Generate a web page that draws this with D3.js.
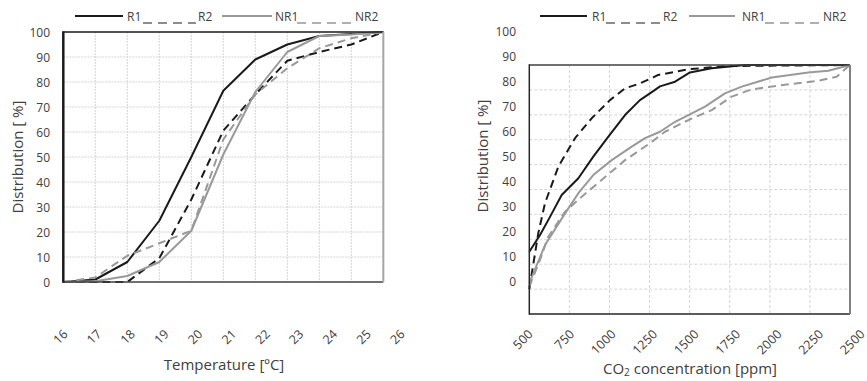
<!DOCTYPE html>
<html>
<head>
<meta charset="utf-8">
<script src="https://cdn.jsdelivr.net/npm/d3@7"></script>
<style>
  html, body { margin: 0; padding: 0; background: #fff; }
  svg { display: block; }
  text { font-family: "Open Sans", sans-serif; fill: #404040; }
</style>
</head>
<body>
<svg id="chart" width="867" height="381"></svg>
<script>
// ---------- DATA ----------
const yTicks = [0, 10, 20, 30, 40, 50, 60, 70, 80, 90, 100];

// Left chart: temperature
const tempTicks = [16, 17, 18, 19, 20, 21, 22, 23, 24, 25, 26];
const tempR1  = [0, 1, 8, 24.5, 50, 76.5, 89, 95, 98.4, 99.2, 100];
const tempR2  = [0, 0, 0, 9.5, 33, 60.5, 75, 88.5, 92, 95, 100];
const tempNR1 = [0, 0.3, 2.4, 8, 20.5, 51, 76, 92, 98.4, 99, 100];
const tempNR2 = [0, 1.8, 10.5, 15.5, 20.5, 57, 75, 85.5, 93.5, 97.5, 100];

// Right chart: CO2 concentration
const co2Ticks = [500, 750, 1000, 1250, 1500, 1750, 2000, 2250, 2500];
const co2R1X  = [500, 567, 629, 702, 806, 899, 993, 1097, 1190, 1273, 1315, 1409, 1502, 1637, 1846, 2500];
const co2R1Y  = [25, 31.7, 39, 47.8, 54.5, 63.2, 71.2, 79.9, 85.9, 89.5, 91.4, 93.3, 97, 98.7, 100, 100];
const co2R2X  = [500, 556, 598, 681, 785, 889, 1003, 1097, 1190, 1273, 1304, 1492, 1741, 2500];
const co2R2Y  = [10, 32.4, 44.5, 59.2, 70.6, 78.6, 85.9, 90.6, 92.6, 95, 96, 98.3, 99.6, 100];
const co2NR1X = [500, 598, 723, 806, 899, 1014, 1139, 1222, 1315, 1409, 1596, 1720, 1825, 2012, 2240, 2365, 2500];
const co2NR1Y = [12.3, 27.7, 40.4, 48.5, 55.8, 61.8, 67.2, 70.6, 73.2, 77.2, 83.3, 88.6, 91.3, 95, 97, 97.7, 100];
const co2NR2X = [500, 567, 618, 723, 827, 951, 1097, 1253, 1346, 1492, 1637, 1762, 1887, 2053, 2303, 2417, 2500];
const co2NR2Y = [11, 21.7, 31, 41.1, 47.1, 53.8, 61.8, 68.6, 73.2, 77.9, 81.9, 87.3, 90.2, 91.7, 93.7, 95.3, 100];

const seriesNames = ["R1", "R2", "NR1", "NR2"];

// ---------- STYLE ----------
const BLACK = "#1a1a1a", GRAY = "#999999";
const styles = {
  R1:  { color: BLACK, dash: null },
  R2:  { color: BLACK, dash: "8,5" },
  NR1: { color: GRAY,  dash: null },
  NR2: { color: GRAY,  dash: "8,5" }
};

const svg = d3.select("#chart");
svg.append("rect").attr("width", 867).attr("height", 381).attr("fill", "#fff");

function drawChart(cfg) {
  const g = svg.append("g");
  const { xPlot, yPlot, xLab, yLab } = cfg;
  const [x0, x1] = xPlot.range();
  const [yb, yt] = yPlot.range();

  // gridlines
  g.append("g").selectAll("line.v").data(cfg.vGrid).join("line")
    .attr("x1", d => xPlot(d)).attr("x2", d => xPlot(d))
    .attr("y1", yt).attr("y2", yb)
    .attr("stroke", "#d4d4d4").attr("stroke-width", 1)
    .attr("stroke-dasharray", cfg.gridDash);
  g.append("g").selectAll("line.h").data(cfg.hGrid).join("line")
    .attr("x1", x0).attr("x2", x1)
    .attr("y1", d => yPlot(d)).attr("y2", d => yPlot(d))
    .attr("stroke", "#d4d4d4").attr("stroke-width", 1)
    .attr("stroke-dasharray", cfg.gridDash);

  // lines
  const line = d3.line().x(d => xPlot(d[0])).y(d => yPlot(d[1]));
  cfg.series.forEach(s => {
    const st = styles[s.name];
    g.append("path").datum(s.pts)
      .attr("d", line)
      .attr("fill", "none")
      .attr("stroke", st.color)
      .attr("stroke-width", 2)
      .attr("stroke-linejoin", "round")
      .attr("stroke-dasharray", st.dash);
  });

  // borders
  const b = cfg.borders;
  g.append("line").attr("x1", x0).attr("x2", x1).attr("y1", yt).attr("y2", yt)
    .attr("stroke", b.top[0]).attr("stroke-width", b.top[1]);
  g.append("line").attr("x1", x0).attr("x2", x1).attr("y1", yb).attr("y2", yb)
    .attr("stroke", b.bottom[0]).attr("stroke-width", b.bottom[1]);
  g.append("line").attr("x1", x1).attr("x2", x1).attr("y1", yt).attr("y2", yb)
    .attr("stroke", b.right[0]).attr("stroke-width", b.right[1]);
  g.append("line").attr("x1", x0).attr("x2", x0).attr("y1", yt - 0.75).attr("y2", yb + 0.75)
    .attr("stroke", b.left[0]).attr("stroke-width", b.left[1]);

  // y tick labels
  const ya = g.append("g").attr("transform", `translate(${cfg.yLabX},0)`)
    .call(d3.axisLeft(yLab).tickValues(yTicks).tickSize(0).tickPadding(0));
  ya.select(".domain").remove();
  ya.selectAll("text").attr("x", 0).attr("dy", "0.35em")
    .attr("font-size", 12).attr("font-family", "Open Sans").attr("fill", "#404040");

  // x tick labels (rotated)
  const xa = g.append("g").attr("transform", `translate(0,${cfg.xLabY})`)
    .call(d3.axisBottom(xLab).tickValues(cfg.xTicks).tickSize(0).tickPadding(0).tickFormat(d3.format("d")));
  xa.select(".domain").remove();
  xa.selectAll("text").attr("x", 0).attr("y", 0).attr("dy", 0)
    .attr("text-anchor", "end").attr("transform", "rotate(-45)")
    .attr("font-size", 12.5).attr("font-family", "Open Sans").attr("fill", "#404040");

  // axis titles
  g.append("text").attr("transform", `translate(${cfg.yTitle[0]},${cfg.yTitle[1]}) rotate(-90)`)
    .attr("text-anchor", "middle").attr("dy", "0.35em").attr("font-size", 15)
    .text("Distribution [ %]");
  const xt = g.append("text").attr("x", cfg.xTitle[0]).attr("y", cfg.xTitle[1])
    .attr("text-anchor", "middle").attr("font-size", 15);
  cfg.xTitleFn(xt);

  // legend
  const L = cfg.legend;
  const lg = g.append("g");
  lg.append("line").attr("x1", L.r1[0]).attr("x2", L.r1[1]).attr("y1", 16).attr("y2", 16)
    .attr("stroke", BLACK).attr("stroke-width", 2);
  lg.append("text").attr("x", L.r1t).attr("y", 21).attr("font-size", 12).text(seriesNames[0]);
  lg.append("line").attr("x1", L.r2[0]).attr("x2", L.r2[1]).attr("y1", 23).attr("y2", 23)
    .attr("stroke", BLACK).attr("stroke-width", 1.2).attr("stroke-dasharray", "9,6");
  lg.append("text").attr("x", L.r2t).attr("y", 21).attr("font-size", 12).text(seriesNames[1]);
  lg.append("line").attr("x1", L.n1[0]).attr("x2", L.n1[1]).attr("y1", 16).attr("y2", 16)
    .attr("stroke", GRAY).attr("stroke-width", 2);
  lg.append("text").attr("x", L.n1t).attr("y", 21).attr("font-size", 12).text(seriesNames[2]);
  lg.append("line").attr("x1", L.n2[0]).attr("x2", L.n2[1]).attr("y1", 23).attr("y2", 23)
    .attr("stroke", "#606060").attr("stroke-width", 1.2).attr("stroke-dasharray", "9,6");
  lg.append("text").attr("x", L.n2t).attr("y", 21).attr("font-size", 12).text(seriesNames[3]);
}

// ---------- LEFT CHART ----------
drawChart({
  xPlot: d3.scaleLinear().domain([16, 26]).range([63.3, 383.3]),
  yPlot: d3.scaleLinear().domain([0, 100]).range([282, 32]),
  xLab:  d3.scaleLinear().domain([16, 26]).range([68, 405]),
  yLab:  d3.scaleLinear().domain([0, 100]).range([282, 32]),
  vGrid: tempTicks.slice(1, -1),
  hGrid: yTicks.slice(1, -1),
  gridDash: "2,1",
  xTicks: tempTicks,
  yLabX: 50,
  xLabY: 335,
  yTitle: [18, 157],
  xTitle: [224, 370],
  xTitleFn: t => t.text("Temperature [ºC]"),
  series: [
    { name: "R1",  pts: tempTicks.map((x, i) => [x, tempR1[i]]) },
    { name: "R2",  pts: tempTicks.map((x, i) => [x, tempR2[i]]) },
    { name: "NR1", pts: tempTicks.map((x, i) => [x, tempNR1[i]]) },
    { name: "NR2", pts: tempTicks.map((x, i) => [x, tempNR2[i]]) }
  ],
  borders: { top: ["#1a1a1a", 1.5], bottom: ["#404040", 1.5], right: ["#a6a6a6", 2], left: ["#1a1a1a", 2.5] },
  legend: { r1: [75, 123], r1t: 127, r2: [143, 196], r2t: 198, n1: [222, 272], n1t: 275, n2: [297, 352], n2t: 355 }
});

// ---------- RIGHT CHART ----------
drawChart({
  xPlot: d3.scaleLinear().domain([500, 2500]).range([529.3, 850]),
  yPlot: d3.scaleLinear().domain([0, 100]).range([314, 65]),
  xLab:  d3.scaleLinear().domain([500, 2500]).range([533, 865]),
  yLab:  d3.scaleLinear().domain([0, 100]).range([281, 31]),
  vGrid: co2Ticks.slice(1, -1),
  hGrid: yTicks.slice(1, -1),
  gridDash: "3,2",
  xTicks: co2Ticks,
  yLabX: 516,
  xLabY: 335,
  yTitle: [483, 156],
  xTitle: [690, 374],
  xTitleFn: t => {
    t.append("tspan").text("CO");
    t.append("tspan").attr("font-size", 10).attr("dy", 2).text("2");
    t.append("tspan").attr("dy", -2).text(" concentration [ppm]");
  },
  series: [
    { name: "R1",  pts: co2R1X.map((x, i) => [x, co2R1Y[i]]) },
    { name: "R2",  pts: co2R2X.map((x, i) => [x, co2R2Y[i]]) },
    { name: "NR1", pts: co2NR1X.map((x, i) => [x, co2NR1Y[i]]) },
    { name: "NR2", pts: co2NR2X.map((x, i) => [x, co2NR2Y[i]]) }
  ],
  borders: { top: ["#404040", 1.5], bottom: ["#262626", 1.5], right: ["#808080", 2], left: ["#262626", 1.5] },
  legend: { r1: [540, 587], r1t: 592, r2: [606, 662], r2t: 663, n1: [689, 735], n1t: 742, n2: [765, 820], n2t: 823 }
});
</script>
</body>
</html>
